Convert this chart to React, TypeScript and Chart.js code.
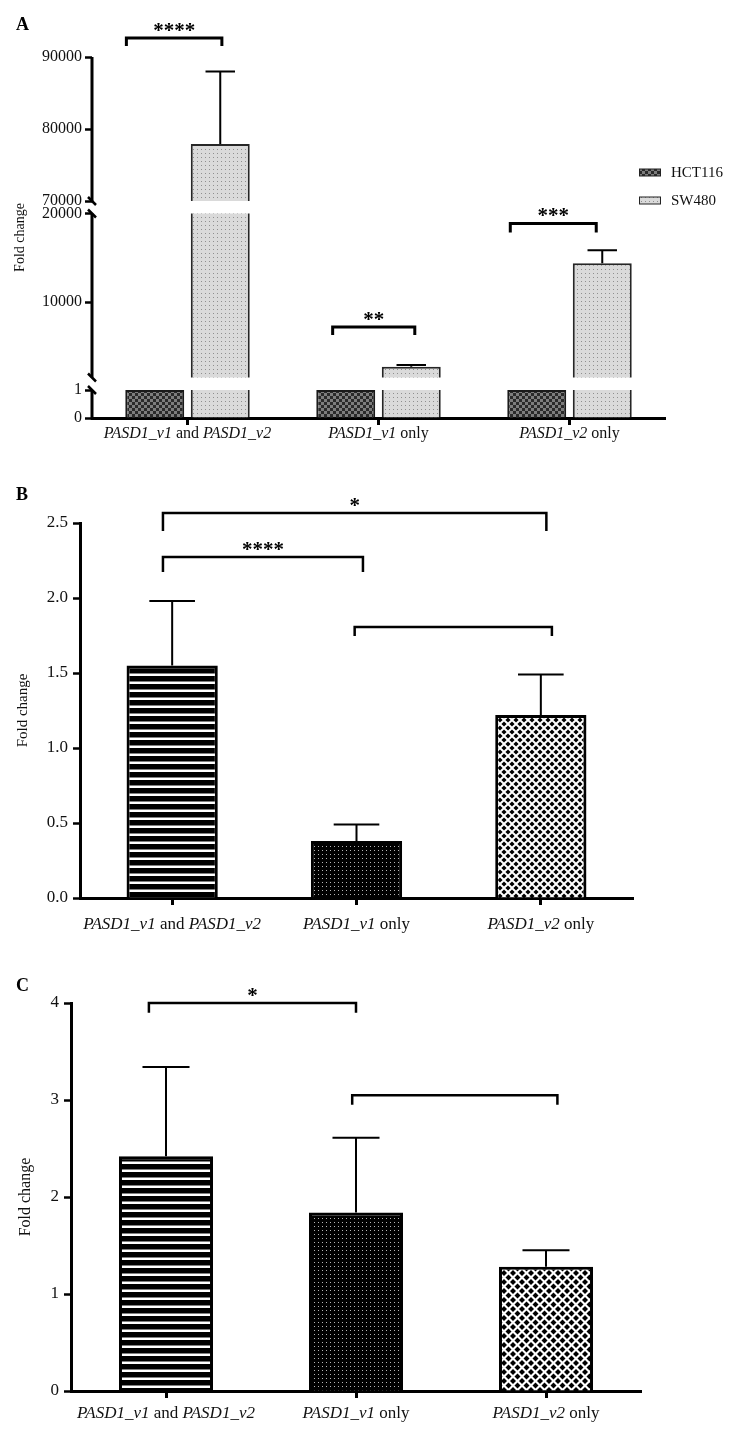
import React, { useEffect, useRef } from 'react';
import { Chart, registerables, LinearScale } from 'chart.js';

Chart.register(...registerables);

// ================= DATA =================
const CATEGORIES = ['PASD1_v1 and PASD1_v2', 'PASD1_v1 only', 'PASD1_v2 only'];

// Panel A (broken y axis)
const A_SERIES = ['HCT116', 'SW480'];
const A_HCT116 = [1, 1, 1];
const A_SW480 = [77900, 2700, 14400];
const A_SW480_ERR = [10100, 220, 1450];
const A_Y_TICKS = [0, 1, 10000, 20000, 70000, 80000, 90000];
const A_Y_SEGMENTS = [[0, 1], [1500, 20000], [70000, 90000]];
const A_BRACKET_FROM = [-0.32, 0.76, 1.69];
const A_BRACKET_TO = [0.18, 1.19, 2.14];
const A_BRACKET_Y = [92640, 7190, 18880];
const A_BRACKET_LEG = [91530, 6290, 17870];
const A_BRACKET_LABEL = ['****', '**', '***'];

// Panel B
const B_VALUES = [1.55, 0.38, 1.22];
const B_ERR = [0.43, 0.11, 0.27];
const B_Y_MAX = 2.5;
const B_Y_STEP = 0.5;
const B_BRACKET_FROM = [-0.05, -0.05, 0.99];
const B_BRACKET_TO = [2.03, 1.035, 2.06];
const B_BRACKET_Y = [2.567, 2.273, 1.807];
const B_BRACKET_LEG = [2.447, 2.173, 1.747];
const B_BRACKET_LABEL = ['*', '****', ''];

// Panel C
const C_VALUES = [2.42, 1.84, 1.28];
const C_ERR = [0.92, 0.77, 0.17];
const C_Y_MAX = 4;
const C_Y_STEP = 1;
const C_BRACKET_FROM = [-0.09, 0.98];
const C_BRACKET_TO = [1.0, 2.06];
const C_BRACKET_Y = [4.0, 3.05];
const C_BRACKET_LEG = [3.9, 2.95];
const C_BRACKET_LABEL = ['*', ''];

// ================= LAYOUT / STYLE =================
const W = 741;
const FONT = "'Liberation Serif', 'Times New Roman', serif";
const A_SEG_HEIGHTS = [28, 164, 144];
const A_SEG_GAP = 12.5;

Chart.defaults.font.family = FONT;
Chart.defaults.color = '#111';

// Broken linear scale: piecewise mapping of segments
class BrokenLinearScale extends (LinearScale as any) {
  static id = 'brokenLinear';
  static defaults = {};
  segBounds() {
    const self: any = this;
    const total = A_SEG_HEIGHTS.reduce((a, b) => a + b, 0) + A_SEG_GAP * (A_Y_SEGMENTS.length - 1);
    const k = (self.bottom - self.top) / total;
    const out: any[] = [];
    let y = self.bottom;
    for (let i = 0; i < A_Y_SEGMENTS.length; i++) {
      const h = A_SEG_HEIGHTS[i] * k;
      out.push({ lo: A_Y_SEGMENTS[i][0], hi: A_Y_SEGMENTS[i][1], yLo: y, yHi: y - h });
      y -= h + A_SEG_GAP * k;
    }
    return out;
  }
  getPixelForValue(value: number) {
    const segs = this.segBounds();
    for (let i = 0; i < segs.length; i++) {
      const s = segs[i];
      if (value < s.lo) return s.yLo;
      if (value <= s.hi || i === segs.length - 1) {
        return s.yLo - ((value - s.lo) / (s.hi - s.lo)) * (s.yLo - s.yHi);
      }
    }
    return (this as any).top;
  }
  getValueForPixel(pixel: number) {
    const segs = this.segBounds();
    for (let i = 0; i < segs.length; i++) {
      const s = segs[i];
      if (pixel >= s.yHi || i === segs.length - 1) {
        return s.lo + ((s.yLo - pixel) / (s.yLo - s.yHi)) * (s.hi - s.lo);
      }
    }
    return 0;
  }
}
Chart.register(BrokenLinearScale as any);

// ================= PATTERNS =================
function tile(w: number, h: number, draw: (g: CanvasRenderingContext2D) => void) {
  const c = document.createElement('canvas');
  c.width = w;
  c.height = h;
  draw(c.getContext('2d')!);
  return c;
}
function diamondTile(s: number, r: number) {
  return tile(s, s, (g) => {
    g.fillStyle = '#fff';
    g.fillRect(0, 0, s, s);
    g.fillStyle = '#000';
    const d = (cx: number, cy: number) => {
      g.beginPath();
      g.moveTo(cx, cy - r);
      g.lineTo(cx + r, cy);
      g.lineTo(cx, cy + r);
      g.lineTo(cx - r, cy);
      g.closePath();
      g.fill();
    };
    d(s / 2, s / 2);
    d(0, 0);
    d(s, 0);
    d(0, s);
    d(s, s);
  });
}
function makePatterns(ctx: CanvasRenderingContext2D, diamondSize = 8, diamondR = 2.3) {
  const checker = ctx.createPattern(
    tile(6, 6, (g) => {
      g.fillStyle = '#7d7d7d';
      g.fillRect(0, 0, 6, 6);
      g.fillStyle = '#2a2a2a';
      g.fillRect(0, 0, 3, 3);
      g.fillRect(3, 3, 3, 3);
    }),
    'repeat'
  )!;
  const lightDots = ctx.createPattern(
    tile(4, 4, (g) => {
      g.fillStyle = '#dadada';
      g.fillRect(0, 0, 4, 4);
      g.fillStyle = '#8f8f8f';
      g.fillRect(1, 1, 1, 1);
    }),
    'repeat'
  )!;
  const stripes = ctx.createPattern(
    tile(8, 8, (g) => {
      g.fillStyle = '#000';
      g.fillRect(0, 0, 8, 8);
      g.fillStyle = '#fff';
      g.fillRect(0, 5.5, 8, 2.5);
    }),
    'repeat'
  )!;
  const darkDots = ctx.createPattern(
    tile(4, 4, (g) => {
      g.fillStyle = '#000';
      g.fillRect(0, 0, 4, 4);
      g.fillStyle = '#b5b5b5';
      g.fillRect(2, 2, 1, 1);
    }),
    'repeat'
  )!;
  const diamonds = ctx.createPattern(diamondTile(diamondSize, diamondR), 'repeat')!;
  return { checker, lightDots, stripes, darkDots, diamonds };
}

// ================= PLUGINS =================
function errorBarPlugin(errs: (number[] | null)[], capFrac: number, lw: number) {
  return {
    id: 'errorBars',
    afterDatasetsDraw(chart: any) {
      const ctx = chart.ctx;
      const ys = chart.scales.y;
      chart.data.datasets.forEach((ds: any, di: number) => {
        const e = errs[di];
        if (!e) return;
        const meta = chart.getDatasetMeta(di);
        meta.data.forEach((el: any, i: number) => {
          if (!e[i]) return;
          const top = ys.getPixelForValue(ds.data[i] + e[i]);
          const cap = el.width * capFrac;
          ctx.save();
          ctx.strokeStyle = '#000';
          ctx.lineWidth = lw;
          ctx.beginPath();
          ctx.moveTo(el.x, el.y);
          ctx.lineTo(el.x, top);
          ctx.moveTo(el.x - cap / 2, top);
          ctx.lineTo(el.x + cap / 2, top);
          ctx.stroke();
          ctx.restore();
        });
      });
    },
  };
}

function bracketPlugin(from: number[], to: number[], yv: number[], leg: number[], labels: string[], lw: number) {
  return {
    id: 'brackets',
    afterDraw(chart: any) {
      const ctx = chart.ctx;
      const xs = chart.scales.x;
      const ys = chart.scales.y;
      for (let i = 0; i < from.length; i++) {
        const x1 = xs.getPixelForValue(from[i]);
        const x2 = xs.getPixelForValue(to[i]);
        const y = ys.getPixelForValue(yv[i]);
        const yl = ys.getPixelForValue(leg[i]);
        ctx.save();
        ctx.strokeStyle = '#000';
        ctx.lineWidth = lw;
        ctx.lineJoin = 'miter';
        ctx.beginPath();
        ctx.moveTo(x1, yl);
        ctx.lineTo(x1, y);
        ctx.lineTo(x2, y);
        ctx.lineTo(x2, yl);
        ctx.stroke();
        if (labels[i]) {
          ctx.fillStyle = '#000';
          ctx.font = `bold 21px ${FONT}`;
          ctx.textAlign = 'center';
          ctx.textBaseline = 'alphabetic';
          ctx.fillText(labels[i], (x1 + x2) / 2, y - 1);
        }
        ctx.restore();
      }
    },
  };
}

function xLabelPlugin(offset: number, size: number) {
  return {
    id: 'xLabels',
    afterDraw(chart: any) {
      const ctx = chart.ctx;
      const xs = chart.scales.x;
      const baseline = chart.chartArea.bottom + offset;
      CATEGORIES.forEach((lab, i) => {
        const parts = lab.split(/(PASD1_v\d)/).filter((p) => p.length > 0);
        const fonts = parts.map((p) => (/^PASD1_v\d$/.test(p) ? 'italic ' : '') + `${size}px ${FONT}`);
        ctx.save();
        let total = 0;
        const widths = parts.map((p, k) => {
          ctx.font = fonts[k];
          const w = ctx.measureText(p).width;
          total += w;
          return w;
        });
        let x = xs.getPixelForValue(i) - total / 2;
        ctx.textAlign = 'left';
        ctx.textBaseline = 'alphabetic';
        ctx.fillStyle = '#111';
        parts.forEach((p, k) => {
          ctx.font = fonts[k];
          ctx.fillText(p, x, baseline);
          x += widths[k];
        });
        ctx.restore();
      });
    },
  };
}

function letterPlugin(letter: string, baseline: number) {
  return {
    id: 'panelLetter',
    afterDraw(chart: any) {
      const ctx = chart.ctx;
      ctx.save();
      ctx.fillStyle = '#000';
      ctx.font = `bold 18px ${FONT}`;
      ctx.textAlign = 'left';
      ctx.textBaseline = 'alphabetic';
      ctx.fillText(letter, 16, baseline);
      ctx.restore();
    },
  };
}

const brokenAxisPlugin = {
  id: 'brokenAxis',
  afterDatasetsDraw(chart: any) {
    const ctx = chart.ctx;
    const segs = chart.scales.y.segBounds();
    const { left, right } = chart.chartArea;
    ctx.save();
    ctx.fillStyle = '#fff';
    for (let i = 0; i < segs.length - 1; i++) {
      const yTop = segs[i + 1].yLo;
      const yBot = segs[i].yHi;
      ctx.fillRect(left + 2, yTop, right - left, yBot - yTop);
    }
    ctx.restore();
  },
  afterDraw(chart: any) {
    const ctx = chart.ctx;
    const segs = chart.scales.y.segBounds();
    const x = chart.chartArea.left;
    ctx.save();
    ctx.strokeStyle = '#000';
    ctx.lineWidth = 3;
    ctx.beginPath();
    segs.forEach((s: any, i: number) => {
      ctx.moveTo(x, i === 0 ? s.yLo + 1.5 : s.yLo);
      ctx.lineTo(x, s.yHi);
    });
    ctx.stroke();
    ctx.lineWidth = 2.5;
    ctx.beginPath();
    for (let i = 0; i < segs.length - 1; i++) {
      [segs[i].yHi, segs[i + 1].yLo].forEach((yy: number) => {
        ctx.moveTo(x - 4, yy - 4);
        ctx.lineTo(x + 4, yy + 4);
      });
    }
    ctx.stroke();
    ctx.restore();
  },
};

function legendPlugin(fills: any[]) {
  return {
    id: 'customLegend',
    afterDraw(chart: any) {
      const ctx = chart.ctx;
      A_SERIES.forEach((name, i) => {
        const cy = 172.5 + i * 28;
        ctx.save();
        ctx.fillStyle = fills[i];
        ctx.fillRect(639, cy - 3.5, 21, 7);
        ctx.strokeStyle = '#222';
        ctx.lineWidth = 1;
        ctx.strokeRect(639.5, cy - 3.5, 21, 7);
        ctx.fillStyle = '#111';
        ctx.font = `15px ${FONT}`;
        ctx.textAlign = 'left';
        ctx.textBaseline = 'middle';
        ctx.fillText(name, 671, cy + 1);
        ctx.restore();
      });
    },
  };
}

// ================= AXES =================
function xAxis(height: number) {
  return {
    type: 'category',
    offset: true,
    grid: {
      display: true,
      offset: false,
      drawOnChartArea: false,
      drawTicks: true,
      tickLength: 7,
      tickWidth: 3,
      tickColor: '#000',
      color: '#000',
    },
    border: { display: true, width: 3, color: '#000' },
    ticks: { display: false },
    afterFit: (s: any) => {
      s.height = height;
    },
  };
}

function yGrid() {
  return {
    display: true,
    drawOnChartArea: false,
    drawTicks: true,
    tickLength: 7,
    tickWidth: 2.5,
    tickColor: '#000',
    color: '#000',
  };
}

// ================= PANELS =================
function buildA(canvas: HTMLCanvasElement) {
  const ctx = canvas.getContext('2d')!;
  const P = makePatterns(ctx);
  const fills = [P.checker, P.lightDots];
  return new Chart(canvas, {
    type: 'bar',
    data: {
      labels: CATEGORIES,
      datasets: [
        {
          label: A_SERIES[0],
          data: A_HCT116,
          backgroundColor: fills[0],
          borderColor: '#1a1a1a',
          borderWidth: 2,
          categoryPercentage: 0.686,
          barPercentage: 0.9,
        },
        {
          label: A_SERIES[1],
          data: A_SW480,
          backgroundColor: fills[1],
          borderColor: '#262626',
          borderWidth: 2,
          categoryPercentage: 0.686,
          barPercentage: 0.9,
        },
      ],
    },
    options: {
      responsive: false,
      animation: false,
      events: [],
      layout: { padding: { top: 57, left: 12, right: 76, bottom: 0 } },
      plugins: { legend: { display: false }, tooltip: { enabled: false } },
      scales: {
        x: xAxis(42),
        y: {
          type: 'brokenLinear',
          min: 0,
          max: 90000,
          afterBuildTicks: (s: any) => {
            s.ticks = A_Y_TICKS.map((v) => ({ value: v }));
          },
          ticks: {
            callback: (v: any) => String(v),
            font: { size: 16 },
            color: '#111',
            padding: 3,
            autoSkip: false,
          },
          grid: yGrid(),
          border: { display: false },
          title: { display: true, text: 'Fold change', font: { size: 14 }, color: '#111', padding: 0 },
          afterFit: (s: any) => {
            s.width = 80;
          },
        },
      },
    } as any,
    plugins: [
      brokenAxisPlugin,
      errorBarPlugin([null, A_SW480_ERR], 0.5, 2),
      bracketPlugin(A_BRACKET_FROM, A_BRACKET_TO, A_BRACKET_Y, A_BRACKET_LEG, A_BRACKET_LABEL, 3),
      xLabelPlugin(20, 16),
      legendPlugin(fills),
      letterPlugin('A', 30),
    ] as any,
  } as any);
}

function buildSimple(
  canvas: HTMLCanvasElement,
  cfg: {
    values: number[];
    errs: number[];
    yMax: number;
    yStep: number;
    decimals: number;
    bFrom: number[];
    bTo: number[];
    bY: number[];
    bLeg: number[];
    bLabel: string[];
    padTop: number;
    padLeft: number;
    yWidth: number;
    padRight: number;
    xHeight: number;
    titleSize: number;
    tickSize: number;
    labelOffset: number;
    labelSize: number;
    letter: string;
    letterBaseline: number;
    diamondSize: number;
    diamondR: number;
  }
) {
  const ctx = canvas.getContext('2d')!;
  const P = makePatterns(ctx, cfg.diamondSize, cfg.diamondR);
  return new Chart(canvas, {
    type: 'bar',
    data: {
      labels: CATEGORIES,
      datasets: [
        {
          label: 'Fold change',
          data: cfg.values,
          backgroundColor: [P.stripes, P.darkDots, P.diamonds],
          borderColor: '#000',
          borderWidth: 3,
          categoryPercentage: 0.55,
          barPercentage: 0.9,
        },
      ],
    },
    options: {
      responsive: false,
      animation: false,
      events: [],
      layout: { padding: { top: cfg.padTop, left: cfg.padLeft, right: cfg.padRight, bottom: 0 } },
      plugins: { legend: { display: false }, tooltip: { enabled: false } },
      scales: {
        x: xAxis(cfg.xHeight),
        y: {
          type: 'linear',
          min: 0,
          max: cfg.yMax,
          ticks: {
            stepSize: cfg.yStep,
            callback: (v: any) => Number(v).toFixed(cfg.decimals),
            font: { size: cfg.tickSize },
            color: '#111',
            padding: 5,
          },
          grid: yGrid(),
          border: { display: true, width: 3, color: '#000' },
          title: { display: true, text: 'Fold change', font: { size: cfg.titleSize }, color: '#111', padding: 0 },
          afterFit: (s: any) => {
            s.width = cfg.yWidth;
          },
        },
      },
    } as any,
    plugins: [
      errorBarPlugin([cfg.errs], 0.5, 2),
      bracketPlugin(cfg.bFrom, cfg.bTo, cfg.bY, cfg.bLeg, cfg.bLabel, 2.5),
      xLabelPlugin(cfg.labelOffset, cfg.labelSize),
      letterPlugin(cfg.letter, cfg.letterBaseline),
    ] as any,
  } as any);
}

function buildB(canvas: HTMLCanvasElement) {
  return buildSimple(canvas, {
    values: B_VALUES,
    errs: B_ERR,
    yMax: B_Y_MAX,
    yStep: B_Y_STEP,
    decimals: 1,
    bFrom: B_BRACKET_FROM,
    bTo: B_BRACKET_TO,
    bY: B_BRACKET_Y,
    bLeg: B_BRACKET_LEG,
    bLabel: B_BRACKET_LABEL,
    padTop: 63,
    padLeft: 14,
    yWidth: 66,
    padRight: 108,
    xHeight: 42,
    titleSize: 15,
    tickSize: 17,
    labelOffset: 31,
    labelSize: 17,
    letter: 'B',
    letterBaseline: 40,
    diamondSize: 8,
    diamondR: 2.6,
  });
}

function buildC(canvas: HTMLCanvasElement) {
  return buildSimple(canvas, {
    values: C_VALUES,
    errs: C_ERR,
    yMax: C_Y_MAX,
    yStep: C_Y_STEP,
    decimals: 0,
    bFrom: C_BRACKET_FROM,
    bTo: C_BRACKET_TO,
    bY: C_BRACKET_Y,
    bLeg: C_BRACKET_LEG,
    bLabel: C_BRACKET_LABEL,
    padTop: 63,
    padLeft: 16,
    yWidth: 55,
    padRight: 100,
    xHeight: 50,
    titleSize: 16,
    tickSize: 17,
    labelOffset: 27,
    labelSize: 17,
    letter: 'C',
    letterBaseline: 51,
    diamondSize: 9,
    diamondR: 3.0,
  });
}

function Panel({ top, height, build }: { top: number; height: number; build: (c: HTMLCanvasElement) => Chart }) {
  const ref = useRef<HTMLCanvasElement>(null);
  useEffect(() => {
    const chart = build(ref.current!);
    return () => chart.destroy();
  }, []);
  return (
    <canvas
      ref={ref}
      width={W}
      height={height}
      style={{ position: 'absolute', left: 0, top, display: 'block', width: W, height }}
    />
  );
}

export default function App() {
  return (
    <div style={{ position: 'absolute', left: 0, top: 0, width: W, height: 1441, background: '#fff', overflow: 'hidden' }}>
      <Panel top={0} height={460} build={buildA} />
      <Panel top={460} height={480} build={buildB} />
      <Panel top={940} height={501} build={buildC} />
    </div>
  );
}
